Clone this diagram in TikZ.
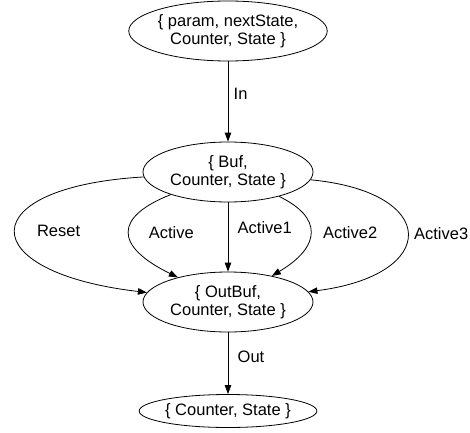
\documentclass[tikz,border=0pt]{standalone}
\usepackage{fontspec}
\setmainfont{Liberation Sans}
\usetikzlibrary{shapes, arrows.meta, positioning}

\begin{document}
\begin{tikzpicture}[->,>={Triangle[length=9pt,width=6.5pt]},x=1pt,y=1pt,line width=0.8pt]
	\tikzset{every node/.style={font=\fontsize{16.5}{18.5}\selectfont}}
	\tikzset{place/.style={ellipse, draw, align=center, inner sep=0pt, minimum width=170pt, minimum height=60pt}}
	\tikzset{lbl/.style={anchor=west, draw=none}}
	\useasboundingbox (0,0) rectangle (470,432);
	\node[place, minimum width=189pt] (top) at (228,401) {\{ param, nextState,\\ Counter, State \}};
	\node[place] (buf) at (228,260) {\{ Buf,\\ Counter, State \}};
	\node[place] (outbuf) at (228,130) {\{ OutBuf,\\ Counter, State \}};
	\node[place, minimum width=171pt, minimum height=33pt] (fin) at (228,21) {\{ Counter, State \}};
	\path
		(top)
			edge node[lbl, pos=0.4, xshift=2pt] (lIn) {In} (buf)
		(buf)
			edge node[lbl, pos=0.37, xshift=6pt] (lActiveI) {Active1} (outbuf)
		(outbuf)
			edge node[lbl, pos=0.4, xshift=6pt] (lOut) {Out} (fin);
	\draw (buf) .. controls (-28,245) and (-28,160) .. node[lbl, pos=0.5, xshift=18pt] (lReset) {Reset} (outbuf);
	\draw (buf) .. controls (114,215) and (114,186) .. node[lbl, pos=0.5, xshift=16pt] (lActive) {Active} (outbuf);
	\draw (buf) .. controls (322,215) and (322,186) .. node[lbl, pos=0.5, xshift=9pt] (lActiveII) {Active2} (outbuf);
	\draw (buf) .. controls (440,240) and (440,157) .. node[lbl, pos=0.5, xshift=3pt] (lActiveIII) {Active3} (outbuf);
\end{tikzpicture}
\end{document}
